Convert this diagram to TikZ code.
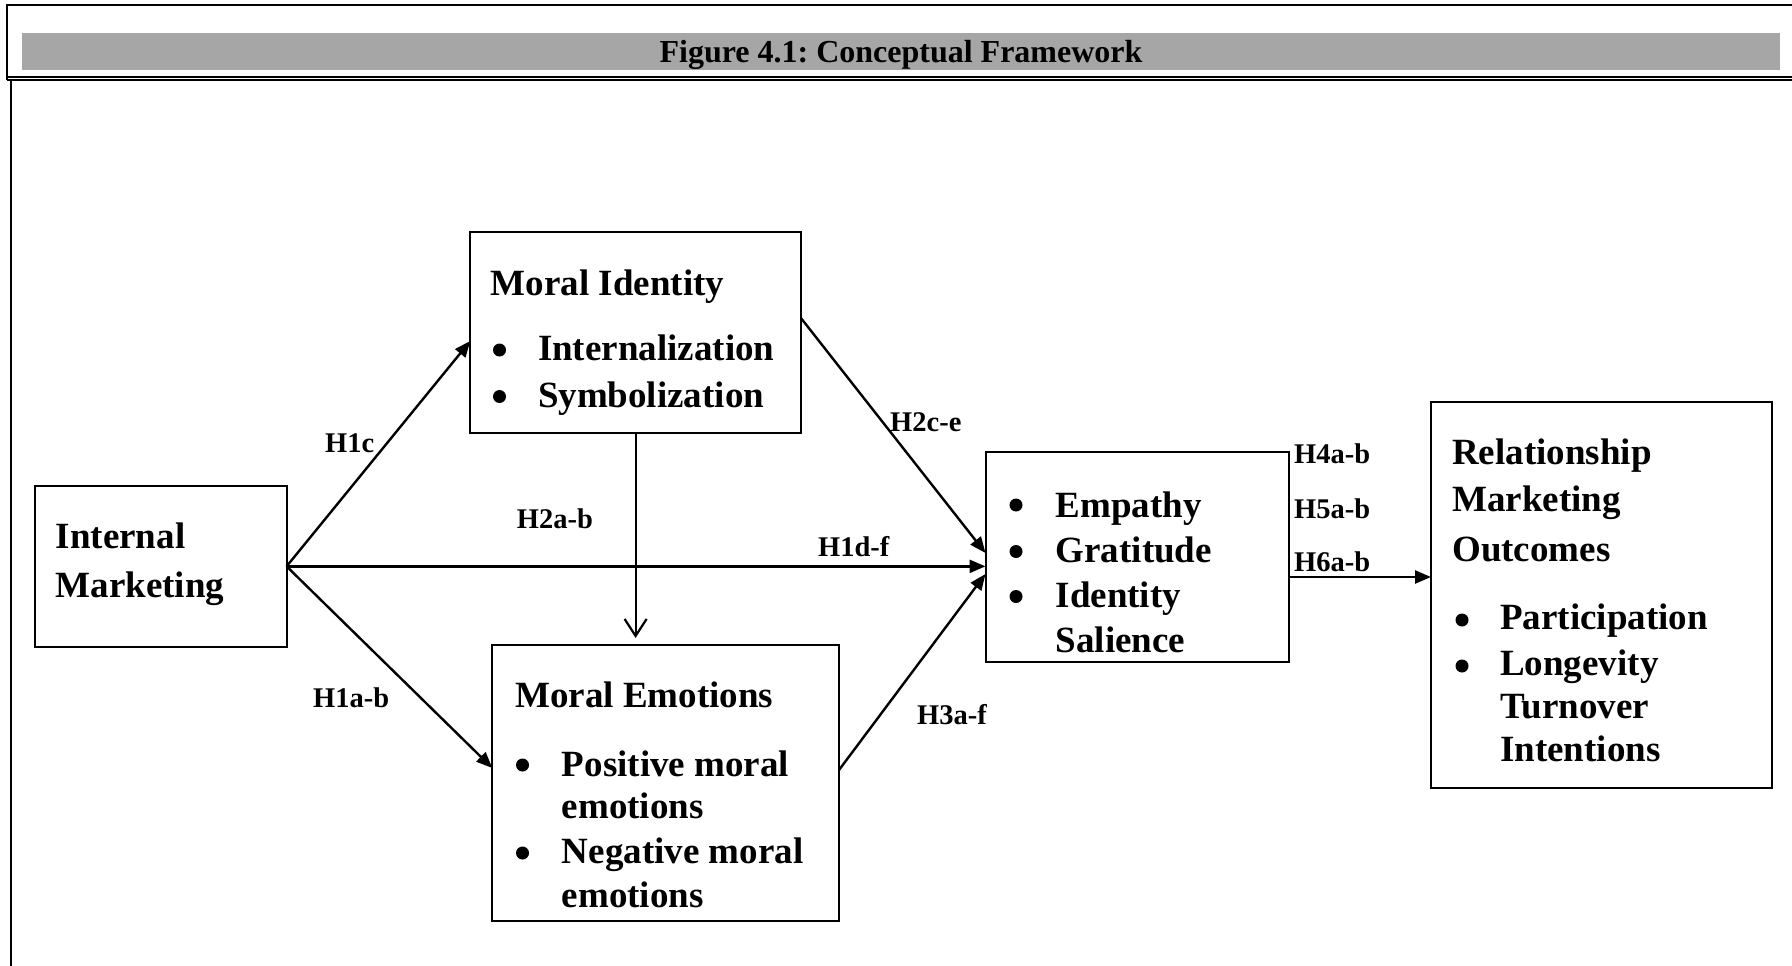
\documentclass[tikz,border=0pt]{standalone}
\usepackage{fontspec}
\setmainfont{Liberation Serif}
\usetikzlibrary{arrows.meta}
\definecolor{bandgray}{HTML}{A6A6A6}
\frenchspacing
\newcommand{\bigtext}{\fontsize{37}{44}\selectfont\bfseries}
\newcommand{\labtext}{\fontsize{28.5}{34}\selectfont\bfseries}
\newcommand{\titletext}{\fontsize{32}{38}\selectfont\bfseries}

\begin{document}
\begin{tikzpicture}[
  x=1pt, y=-1pt,
  box/.style={draw, line width=2pt, inner sep=0pt, outer sep=0pt, anchor=north west},
  big/.style={font=\bigtext, anchor=base west, inner sep=0pt},
  lab/.style={font=\labtext, anchor=base west, inner sep=0pt},
  headline/.style={font=\titletext, anchor=base, inner sep=0pt},
  link/.style={line width=2.4pt, -{Triangle[length=16pt,width=13pt]}},
  openlink/.style={line width=2.2pt, -{Straight Barb[length=17pt,width=22pt]}},
  dot/.style={fill=black}
]
\useasboundingbox (0,0) rectangle (1792,966);

% page frame and caption band
\draw[line width=2pt] (7,80) -- (7,5.5) -- (1792,5.5);
\fill[bandgray] (22,33) rectangle (1780,70);
\node[headline] (title) at (901,62.5) {Figure 4.1: Conceptual Framework};
\draw[line width=1.5pt] (7,76.8) -- (1792,76.8);
\draw[line width=1.5pt] (7,80.2) -- (1792,80.2);
\draw[line width=2pt] (11,79) -- (11,966);

% construct boxes
\node[box, minimum width=252pt, minimum height=160.7pt] (im) at (34.6,486) {};
\node[box, minimum width=330.6pt, minimum height=201.6pt] (mi) at (470.3,231.7) {};
\node[box, minimum width=346.7pt, minimum height=275.7pt] (me) at (492.3,645) {};
\node[box, minimum width=303.5pt, minimum height=209.7pt] (em) at (985.5,452) {};
\node[box, minimum width=340.7pt, minimum height=386.3pt] (rm) at (1431,401.7) {};

% Internal Marketing
\node[big] (imA) at (55.6,548) {Internal};
\node[big] (imB) at (55.6,597) {Marketing};

% Moral Identity
\node[big] (miA) at (490.7,295) {Moral Identity};
\fill[dot] (499.5,350) circle[radius=6.5pt];
\node[big] (miB) at (537.8,360) {Internalization};
\fill[dot] (499.5,396.5) circle[radius=6.5pt];
\node[big] (miC) at (537.8,407) {Symbolization};

% Moral Emotions
\node[big] (meA) at (515,707) {Moral Emotions};
\fill[dot] (522.5,765) circle[radius=6.5pt];
\node[big] (meB) at (561.7,776) {Positive moral};
\node[big] (meC) at (561.7,818) {emotions};
\fill[dot] (522.5,853) circle[radius=6.5pt];
\node[big] (meD) at (561.7,863) {Negative moral};
\node[big] (meE) at (561.7,907) {emotions};

% Empathy / Gratitude / Identity Salience
\fill[dot] (1016,505) circle[radius=6.5pt];
\node[big] (emA) at (1055.5,517) {Empathy};
\fill[dot] (1016,551.5) circle[radius=6.5pt];
\node[big] (emB) at (1055.5,562) {Gratitude};
\fill[dot] (1016,596.5) circle[radius=6.5pt];
\node[big] (emC) at (1055.5,607) {Identity};
\node[big] (emD) at (1055.5,652) {Salience};

% Relationship Marketing Outcomes
\node[big] (rmA) at (1452,464) {Relationship};
\node[big] (rmB) at (1452,511) {Marketing};
\node[big] (rmC) at (1452,561) {Outcomes};
\fill[dot] (1462,620) circle[radius=6.5pt];
\node[big] (rmD) at (1500,629) {Participation};
\fill[dot] (1462,666) circle[radius=6.5pt];
\node[big] (rmE) at (1500,675) {Longevity};
\node[big] (rmF) at (1500,718) {Turnover};
\node[big] (rmG) at (1500,761) {Intentions};

% connector end points
\coordinate (miIn) at (mi.west |- 0,341);
\coordinate (meIn) at (me.west |- 0,768);
\coordinate (miOut) at (mi.east |- 0,318);
\coordinate (meOut) at (me.east |- 0,770);
\coordinate (emIn1) at (em.west |- 0,553);
\coordinate (emIn2) at (em.west |- im.east);
\coordinate (emIn3) at (em.west |- 0,574);
\coordinate (emOut) at (em.east |- 0,577);
\coordinate (rmIn) at (rm.west |- 0,577);
\coordinate (meTop) at (mi.south |- 0,638);

% hypothesised paths
\draw[link] (im.east) -- (miIn);
\draw[link] (im.east) -- (meIn);
\draw[link] (im.east) -- (emIn2);
\draw[openlink] (mi.south) -- (meTop);
\draw[link] (miOut) -- (emIn1);
\draw[link] (meOut) -- (emIn3);
\draw[link] (emOut) -- (rmIn);

% path labels
\node[lab] (h1c) at (325,452) {H1c};
\node[lab] (h1ab) at (313,707) {H1a-b};
\node[lab] (h2ab) at (516.7,528) {H2a-b};
\node[lab] (h1df) at (818,556) {H1d-f};
\node[lab] (h2ce) at (890,431.5) {H2c-e};
\node[lab] (h3af) at (917,724) {H3a-f};
\node[lab] (h4ab) at (1294,463) {H4a-b};
\node[lab] (h5ab) at (1294,518) {H5a-b};
\node[lab] (h6ab) at (1294,571.5) {H6a-b};
\end{tikzpicture}
\end{document}
